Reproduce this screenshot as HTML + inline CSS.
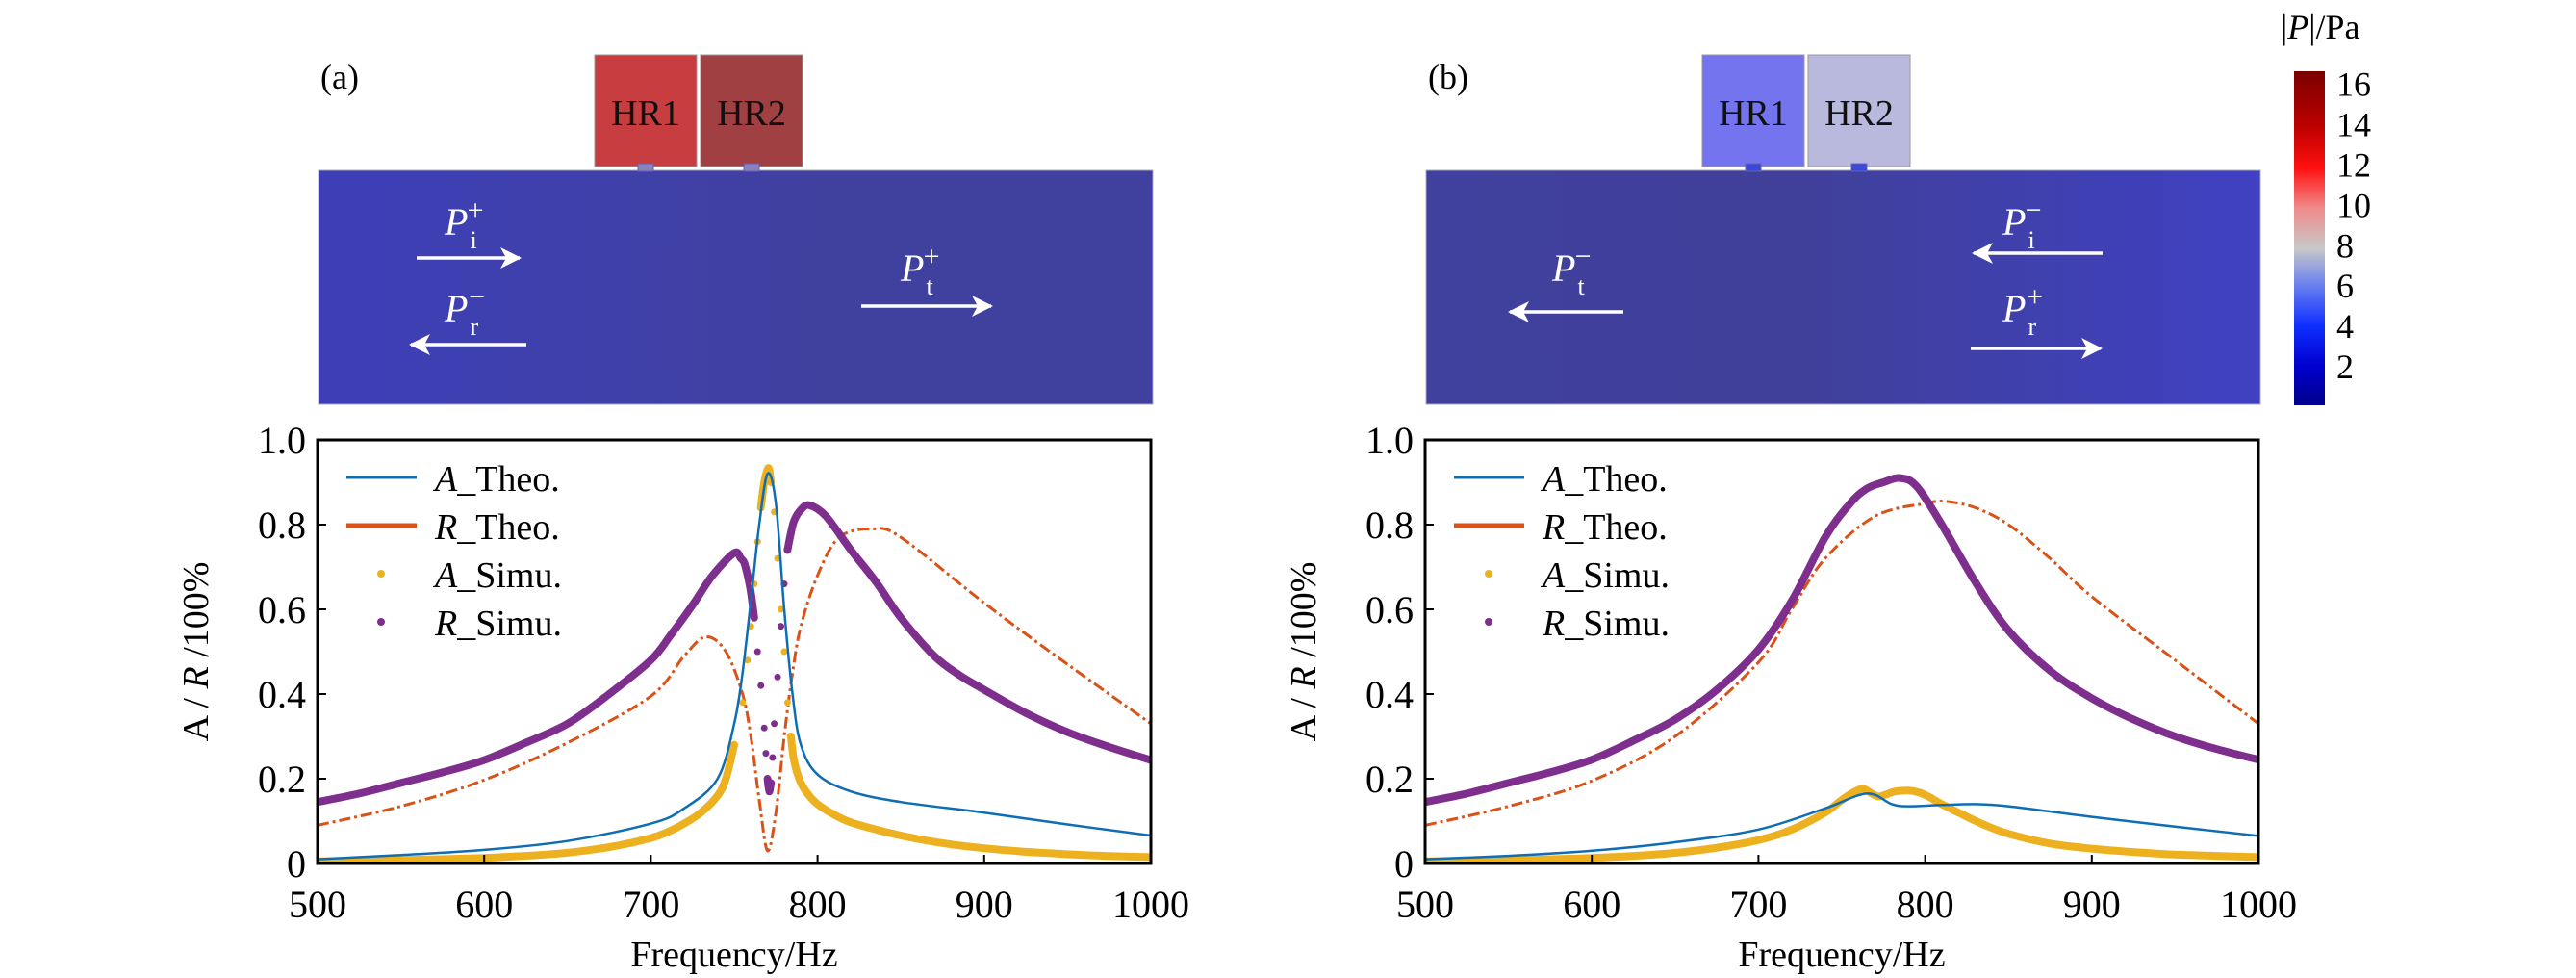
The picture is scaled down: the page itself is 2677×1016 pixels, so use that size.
<!DOCTYPE html>
<html><head><meta charset="utf-8"><style>
body{margin:0;background:#fff;}
svg{display:block;font-family:"Liberation Serif",serif;}
</style></head><body>
<svg id="fig" width="2677" height="1016" viewBox="0 0 2677 1016" xmlns="http://www.w3.org/2000/svg">
<defs>
<linearGradient id="ga" x1="0" x2="1" y1="0" y2="0"><stop offset="0" stop-color="#3e3fb8"/><stop offset="0.6" stop-color="#40409f"/><stop offset="1" stop-color="#40409e"/></linearGradient>
<linearGradient id="gb" x1="0" x2="1" y1="0" y2="0"><stop offset="0" stop-color="#40409e"/><stop offset="0.45" stop-color="#40409a"/><stop offset="1" stop-color="#3f40c2"/></linearGradient>
<linearGradient id="gc" x1="0" x2="0" y1="1" y2="0">
<stop offset="0" stop-color="#00008a"/><stop offset="0.12" stop-color="#0000d0"/><stop offset="0.24" stop-color="#1030ff"/><stop offset="0.36" stop-color="#6a80f0"/><stop offset="0.47" stop-color="#c8c8c8"/><stop offset="0.59" stop-color="#f08a8a"/><stop offset="0.71" stop-color="#ff1010"/><stop offset="0.83" stop-color="#c00000"/><stop offset="1" stop-color="#7a0000"/></linearGradient>
<marker id="ah" markerWidth="24" markerHeight="24" refX="20" refY="12" orient="auto" markerUnits="userSpaceOnUse"><path d="M0,1 L22,12 L0,23 L6,12 Z" fill="#fff"/></marker>
</defs>
<g id="root"></g>
</svg>
<script>
// ---------- data: panel (a) ----------
const aTheoF_a=[500,550,600,650,700,720,740,750,755,760,765,770,775,780,785,790,800,820,850,900,950,1000];
const aTheoV_a=[0.01,0.02,0.032,0.053,0.094,0.13,0.2,0.33,0.45,0.62,0.8,0.92,0.85,0.6,0.4,0.28,0.21,0.17,0.145,0.12,0.092,0.066];
const rTheoF_a=[500,550,600,650,700,720,733,745,755,760,765,770,775,780,785,790,800,813,833,850,900,950,1000];
const rTheoV_a=[0.09,0.135,0.197,0.285,0.395,0.49,0.535,0.5,0.4,0.3,0.15,0.03,0.12,0.3,0.45,0.56,0.68,0.77,0.79,0.77,0.615,0.47,0.33];
const aSimF_a=[500,520,540,560,580,600,620,640,660,680,700,710,720,730,740,745,750,755,758,760,762,764,766,768,770,771,772,774,776,778,780,782,784,786,790,795,800,810,820,840,860,880,900,920,940,960,980,1000];
const aSimV_a=[0.005,0.006,0.008,0.009,0.011,0.013,0.017,0.022,0.03,0.042,0.06,0.074,0.094,0.12,0.16,0.2,0.28,0.38,0.48,0.56,0.66,0.76,0.84,0.9,0.93,0.93,0.9,0.83,0.72,0.6,0.5,0.38,0.3,0.24,0.19,0.16,0.14,0.115,0.097,0.075,0.058,0.045,0.036,0.029,0.024,0.02,0.017,0.015];
const rSimF_a=[500,525,550,575,600,625,650,675,700,712,725,737,750,754,756,758,760,762,764,766,768,769,770,771,772,773,774,776,778,780,782,784,786,790,795,805,820,835,850,870,885,900,925,950,975,1000];
const rSimV_a=[0.145,0.165,0.19,0.215,0.244,0.285,0.33,0.4,0.48,0.54,0.61,0.68,0.733,0.72,0.71,0.68,0.64,0.58,0.5,0.42,0.32,0.26,0.2,0.17,0.19,0.25,0.33,0.44,0.56,0.66,0.74,0.78,0.81,0.835,0.846,0.82,0.74,0.665,0.58,0.49,0.445,0.41,0.355,0.31,0.275,0.244];
// ---------- data: panel (b) ----------
const aTheoF_b=[500,550,600,650,700,740,765,780,790,810,830,850,900,950,1000];
const aTheoV_b=[0.01,0.018,0.03,0.05,0.08,0.13,0.165,0.14,0.135,0.138,0.14,0.135,0.11,0.087,0.065];
const rTheoF_b=[500,550,600,650,700,720,740,770,800,812,830,850,875,900,950,1000];
const rTheoV_b=[0.09,0.135,0.195,0.3,0.475,0.6,0.72,0.82,0.85,0.855,0.84,0.8,0.72,0.63,0.48,0.33];
const aSimF_b=[500,525,550,575,600,625,650,675,700,720,740,750,758,763,768,772,776,782,790,796,802,810,820,835,850,875,900,925,950,975,1000];
const aSimV_b=[0.005,0.006,0.008,0.01,0.013,0.018,0.025,0.037,0.055,0.08,0.12,0.15,0.17,0.176,0.165,0.158,0.162,0.17,0.172,0.168,0.158,0.14,0.12,0.092,0.07,0.047,0.035,0.027,0.021,0.018,0.015];
const rSimF_b=[500,525,550,575,600,625,650,675,700,720,740,755,765,775,785,795,810,830,850,875,900,925,950,975,1000];
const rSimV_b=[0.145,0.165,0.19,0.215,0.245,0.29,0.34,0.41,0.505,0.62,0.77,0.85,0.885,0.9,0.91,0.89,0.8,0.665,0.55,0.455,0.39,0.34,0.3,0.27,0.245];
const xTicks=[500,600,700,800,900,1000];
const yTicks=[0,0.2,0.4,0.6,0.8,1.0];
const yTickLabels=["0","0.2","0.4","0.6","0.8","1.0"];
const cbTicks=[2,4,6,8,10,12,14,16];

const NS="http://www.w3.org/2000/svg";
const root=document.getElementById('root');
function mk(tag,attrs,parent,text){const e=document.createElementNS(NS,tag);for(const k in attrs)e.setAttribute(k,attrs[k]);if(text!==undefined)e.textContent=text;(parent||root).appendChild(e);return e;}

const BLUE="#0e6db5",ORANGE="#d95319",YEL="#edb120",PUR="#7e2f8e";

function spline(P){
  if(P.length<2)return '';
  let d='M'+P[0][0].toFixed(1)+','+P[0][1].toFixed(1);
  for(let i=0;i<P.length-1;i++){
    const p0=P[Math.max(0,i-1)],p1=P[i],p2=P[i+1],p3=P[Math.min(P.length-1,i+2)];
    const c1=[p1[0]+(p2[0]-p0[0])/6,p1[1]+(p2[1]-p0[1])/6];
    const c2=[p2[0]-(p3[0]-p1[0])/6,p2[1]-(p3[1]-p1[1])/6];
    c1[0]=Math.min(Math.max(c1[0],p1[0]),p2[0]);c2[0]=Math.min(Math.max(c2[0],p1[0]),p2[0]);
    d+='C'+c1[0].toFixed(1)+','+c1[1].toFixed(1)+' '+c2[0].toFixed(1)+','+c2[1].toFixed(1)+' '+p2[0].toFixed(1)+','+p2[1].toFixed(1);
  }
  return d;
}

function panel(off,letter,grad,hr1c,hr2c,d){
  const g=mk('g',{transform:`translate(${off},0)`});
  
  
  const lab=mk('text',{x:333,y:92,'font-size':36},g,'('+letter+')');
  
  
  const duct=mk('rect',{x:331,y:177,width:867,height:243,fill:'url(#'+grad+')',stroke:'#aab',"stroke-width":1},g);
  
  
  [[618,hr1c,'HR1'],[728,hr2c,'HR2']].forEach(([x,c,t])=>{
    const r=mk('rect',{x:x,y:57,width:106,height:116,fill:c,stroke:'#999','stroke-width':1},g);
    
    
    mk('rect',{x:x+45,y:170,width:16,height:8,fill:letter==='a'?'#8a80c0':'#3a48d8',stroke:'#6660b0','stroke-width':1},g);
    const tt=mk('text',{x:x+53,y:130,'font-size':38,'text-anchor':'middle',fill:'#111'},g,t);
    
    
  });
  d.arrows.forEach(a=>{
    const l=mk('line',{x1:a[0],y1:a[2],x2:a[1],y2:a[2],stroke:'#fff','stroke-width':3.5,'marker-end':'url(#ah)'},g);
    
    
    const t=mk('text',{x:a[3][0],y:a[3][1],'font-size':40,'font-style':'italic',fill:'#fff'},g,'P');
    
    
    mk('tspan',{'font-size':26,'font-style':'normal',dx:2,dy:14},t,a[5]);
    mk('tspan',{'font-size':30,'font-style':'normal',dx:-10,dy:-30},t,a[6]);
  });
  const L=330,R=1196,T=457,B=897;
  const X=f=>L+(f-500)/500*(R-L);
  const Y=v=>B-v*(B-T);
  const clip='clip'+letter;
  const cp=mk('clipPath',{id:clip},g);mk('rect',{x:L,y:T,width:R-L,height:B-T},cp);
  const plot=mk('g',{'clip-path':`url(#${clip})`},g);
  
  
  function line(F,V,c,w,dash,name){
    const p=mk('path',{d:spline(F.map((f,i)=>[X(f),Y(V[i])])),fill:'none',stroke:c,'stroke-width':w,'stroke-dasharray':dash||'none','stroke-linejoin':'round'},plot);
    
    
  }
  function dots(F,V,c,name){
    const gg=mk('g',{},plot);
    
    
    const runs=[];let cur=[[X(F[0]),Y(V[0])]];
    for(let i=1;i<F.length;i++){
      const p=[X(F[i]),Y(V[i])],q=cur[cur.length-1];
      if(Math.abs(p[1]-q[1])<=(p[0]-q[0])*2.5+22) cur.push(p); else {runs.push(cur);cur=[p];}
    }
    runs.push(cur);
    runs.forEach(r=>{ if(r.length>1) mk('path',{d:spline(r),fill:'none',stroke:c,'stroke-width':8,'stroke-linecap':'round'},gg); });
    F.forEach((f,i)=>{
      const cc=mk('circle',{cx:X(f),cy:Y(V[i]),r:3.5,fill:c},gg);
      
      
    });
  }
  line(d.rtF,d.rtV,ORANGE,3,'12,4,3,4','r-theo-line');
  dots(d.rsF,d.rsV,PUR,'r-simu-points');
  dots(d.asF,d.asV,YEL,'a-simu-points');
  line(d.atF,d.atV,BLUE,2.5,null,'a-theo-line');
  const frame=mk('rect',{x:L,y:T,width:R-L,height:B-T,fill:'none',stroke:'#000','stroke-width':3},g);
  
  
  xTicks.forEach(t=>{
    mk('line',{x1:X(t),x2:X(t),y1:B,y2:B-9,stroke:'#000','stroke-width':2},g);
    const tl=mk('text',{x:X(t),y:B+56,'font-size':40,'text-anchor':'middle'},g,String(t));
    
    
  });
  yTicks.forEach((t,i)=>{
    mk('line',{x1:L,x2:L+9,y1:Y(t),y2:Y(t),stroke:'#000','stroke-width':2},g);
    const tl=mk('text',{x:L-12,y:Y(t)+14,'font-size':40,'text-anchor':'end'},g,yTickLabels[i]);
    
    
  });
  const xt=mk('text',{x:(L+R)/2,y:1004,'font-size':38,'text-anchor':'middle'},g,'Frequency/Hz');
  
  
  const yt=mk('text',{x:0,y:0,'font-size':38,'text-anchor':'middle',transform:`translate(216,${(T+B)/2}) rotate(-90)`},g);
  
  
  mk('tspan',{},yt,'A / ');mk('tspan',{'font-style':'italic'},yt,'R');mk('tspan',{},yt,' /100%');
  const leg=[['A','Theo.','line',BLUE],['R','Theo.','line',ORANGE],['A','Simu.','dot',YEL],['R','Simu.','dot',PUR]];
  leg.forEach((e,i)=>{
    const y=496+i*50;
    const lg=mk('g',{},g);
    
    
    if(e[2]==='line') mk('line',{x1:360,x2:433,y1:y,y2:y,stroke:e[3],'stroke-width':i?5:3},lg);
    else mk('circle',{cx:396,cy:y,r:4,fill:e[3]},lg);
    const t=mk('text',{x:452,y:y+14,'font-size':38},lg);
    mk('tspan',{'font-style':'italic'},t,e[0]);mk('tspan',{},t,'_'+e[1]);
  });
}

panel(0,'a','ga','#c83e40','#a04042',{
  arrows:[[433,540,268,[462,244],'pi','i','+'],[547,427,358,[462,334],'pr','r','\u2212'],[895,1030,318,[936,292],'pt','t','+']],
  atF:aTheoF_a,atV:aTheoV_a,rtF:rTheoF_a,rtV:rTheoV_a,asF:aSimF_a,asV:aSimV_a,rsF:rSimF_a,rsV:rSimV_a});
panel(1151,'b','gb','#7474ee','#b9b9de',{
  arrows:[[1034,900,263,[930,244],'pi','i','\u2212'],[897,1032,362,[930,334],'pr','r','+'],[536,418,324,[462,292],'pt','t','\u2212']],
  atF:aTheoF_b,atV:aTheoV_b,rtF:rTheoF_b,rtV:rTheoV_b,asF:aSimF_b,asV:aSimV_b,rsF:rSimF_b,rsV:rSimV_b});

const cb=mk('g',{});


mk('rect',{x:2384,y:74,width:32,height:347,fill:'url(#gc)'},cb);
const cbY=v=>421-(v-0.05)/(16.6-0.05)*347;
cbTicks.forEach(t=>{
  const tl=mk('text',{x:2428,y:cbY(t)+13,'font-size':36},cb,String(t));
  
  
});
const cbt=mk('text',{x:2370,y:40,'font-size':36},cb);


mk('tspan',{},cbt,'|');mk('tspan',{'font-style':'italic'},cbt,'P');mk('tspan',{},cbt,'|/Pa');
</script>
</body></html>
